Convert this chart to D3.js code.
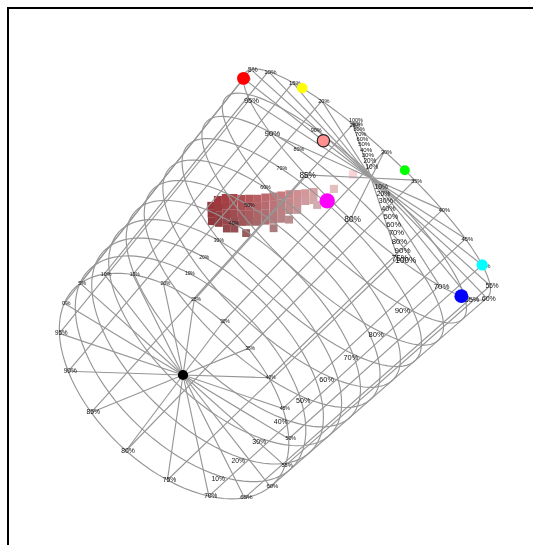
<!DOCTYPE html>
<html>
<head>
<meta charset="utf-8">
<script src="https://cdn.jsdelivr.net/npm/d3@7"></script>
<style>
html, body { margin: 0; padding: 0; background: #fff; }
svg { display: block; }
#frame { fill: none; stroke: #000; stroke-width: 2; }
.plot { filter: blur(0.45px); }
.grid { fill: none; stroke: #969696; stroke-width: 1.15; }
text { font-family: "Liberation Sans", Arial, sans-serif; fill: #111; text-anchor: middle; dominant-baseline: middle; }
</style>
</head>
<body>
<svg id="chart" width="533" height="545"></svg>
<script>
// hue ticks round the cylinder, percent of a full turn
const hueTicks = [0, 5, 10, 15, 20, 25, 30, 35, 40, 45, 50, 55, 60, 65, 70, 75, 80, 85, 90, 95];
// value rings, 0 = black end, 1 = white end
const valueRings = [0, 0.1, 0.2, 0.3, 0.4, 0.5, 0.6, 0.7, 0.8, 0.9, 1];
const axisTicks = [10, 20, 30, 40, 50, 60, 70, 80, 90, 100];

// anchor colours: hue in degrees, saturation, value
const anchorNames = ["#ff0000", "#ffff00", "#00ff00", "#00ffff", "#0000ff", "#ff00ff", "#000000", "#ff9090"];
const anchorHue = [0, 60, 120, 180, 240, 296, 0, 0];
const anchorSat = [1, 1, 1, 1, 1, 1.05, 0, 0.39];
const anchorVal = [1, 1, 1, 1, 1, 1, 0, 1];

// image pixels, all at hue 5 degrees
const pixelSat = [.646,.612,.578,.638,.604,.570,.536,.608,.575,.540,.507,.472,.570,.537,.502,.468,.434,.527,.493,.459,.425,.356,
    .489,.455,.421,.387,.451,.417,.383,.349,.417,.384,.349,.315,.383,.349,.315,.281,.242,.349,.315,.281,.247,.315,.281,.247,.205,
    .277,.243,.209,.243,.209,.209,.175,.135,.126,.100];
const pixelVal = [.602,.581,.560,.632,.611,.590,.570,.654,.633,.612,.592,.571,.670,.649,.628,.608,.587,.684,.664,.643,.622,.599,
    .701,.681,.660,.639,.717,.697,.676,.655,.737,.716,.695,.675,.756,.736,.715,.694,.671,.775,.754,.734,.713,.795,.774,.753,.727,
    .812,.791,.770,.830,.810,.850,.829,.824,.899,.973];
const pixelHue = 5;

const svg = d3.select("#chart");

svg.append("path")
    .attr("id", "frame")
    .attr("d", "M8,545V8H533");

let plot = svg.append("g").classed("plot", true);

const turn = d3.scaleLinear().domain([0, 100]).range([0, 2 * Math.PI]);
const degrees = d3.scaleLinear().domain([0, 360]).range([0, 2 * Math.PI]);

// camera matrix for the cylinder, x = s cos h, y = s sin h, z = v
const camX = [-122.5, 43.5, 132.35, 183];
const camY = [-89.25, -25, -223.7, 375];
const camW = [-0.058, 0.1667, -0.15, 1];

function project(angle, s, v) {
    let x = s * Math.cos(angle), y = s * Math.sin(angle);
    let w = camW[0] * x + camW[1] * y + camW[2] * v + camW[3];
    return {
        x: (camX[0] * x + camX[1] * y + camX[2] * v + camX[3]) / w,
        y: (camY[0] * x + camY[1] * y + camY[2] * v + camY[3]) / w,
        w: w
    };
}

// d3 core has no hsv colour, so convert here
function hsvColor(h, s, v) {
    let hue = ((h % 360) + 360) % 360 / 60;
    let f = hue - Math.floor(hue);
    let p = v * (1 - s), q = v * (1 - s * f), t = v * (1 - s * (1 - f));
    let rgb = [[v, t, p], [q, v, p], [p, v, t], [p, q, v], [t, p, v], [v, p, q]][Math.floor(hue)];
    return d3.rgb(rgb[0] * 255, rgb[1] * 255, rgb[2] * 255).formatHex();
}

// pixels of the image, under the grid
let pixels = d3.range(pixelSat.length).map(function(i) {
    return { s: pixelSat[i], v: pixelVal[i] };
});
plot.append("g").selectAll("rect")
    .data(pixels)
    .enter().append("rect")
    .each(function(d) {
        let p = project(degrees(pixelHue), d.s, d.v);
        let size = 7 / p.w;
        d3.select(this)
            .attr("x", p.x - size / 2)
            .attr("y", p.y - size / 2)
            .attr("width", size)
            .attr("height", size)
            .attr("fill", hsvColor(pixelHue - 8, d.s * 0.95 + 0.05, d.v));
    });

let line = d3.line().x(function(d) { return d.x; }).y(function(d) { return d.y; });
let gGrid = plot.append("g").classed("grid", true);

// rings
let ringSteps = d3.range(0, 100.5, 1);
gGrid.selectAll("path.ring")
    .data(valueRings)
    .enter().append("path")
    .classed("ring", true)
    .attr("d", function(v) {
        return line(ringSteps.map(function(t) { return project(turn(t), 1, v); }));
    });

// lines along the cylinder
gGrid.selectAll("path.side")
    .data(hueTicks)
    .enter().append("path")
    .classed("side", true)
    .attr("d", function(t) {
        return line([project(turn(t), 1, 0), project(turn(t), 1, 1)]);
    });

// spokes on both end discs
[0, 1].forEach(function(v) {
    gGrid.selectAll("path.spoke" + v)
        .data(hueTicks)
        .enter().append("path")
        .classed("spoke" + v, true)
        .attr("d", function(t) {
            return line([project(0, 0, v), project(turn(t), 1, v)]);
        });
});

// text labels
function addLabel(text, p, dx, dy) {
    plot.append("text")
        .attr("x", p.x + dx)
        .attr("y", p.y + dy)
        .style("font-size", (5.6 / p.w).toFixed(2) + "px")
        .text(text);
}

hueTicks.forEach(function(t) {
    addLabel(t + "%", project(turn(t), 1, 0), 2, 0);
    addLabel(t + "%", project(turn(t), 1, 1), 2, 1);
});
axisTicks.forEach(function(t) {
    addLabel(t + "%", project(turn(25), t / 100, 1), 3, -4);
    addLabel(t + "%", project(turn(75), t / 100, 1), 8, 3);
    if (t < 100) {
        addLabel(t + "%", project(turn(22), 1, t / 100), 0, 0);
        addLabel(t + "%", project(turn(70.5), 1, t / 100), -6, 2);
    }
});

// anchor colours
plot.append("g").selectAll("circle")
    .data(anchorNames)
    .enter().append("circle")
    .each(function(c, i) {
        let p = project(degrees(anchorHue[i]), anchorSat[i], anchorVal[i]);
        d3.select(this)
            .attr("cx", p.x)
            .attr("cy", p.y)
            .attr("r", 5.1 / p.w)
            .attr("fill", c)
            .attr("stroke", c == "#ff9090" ? "#222" : "none")
            .attr("stroke-width", 1.2);
    });
</script>
</body>
</html>
